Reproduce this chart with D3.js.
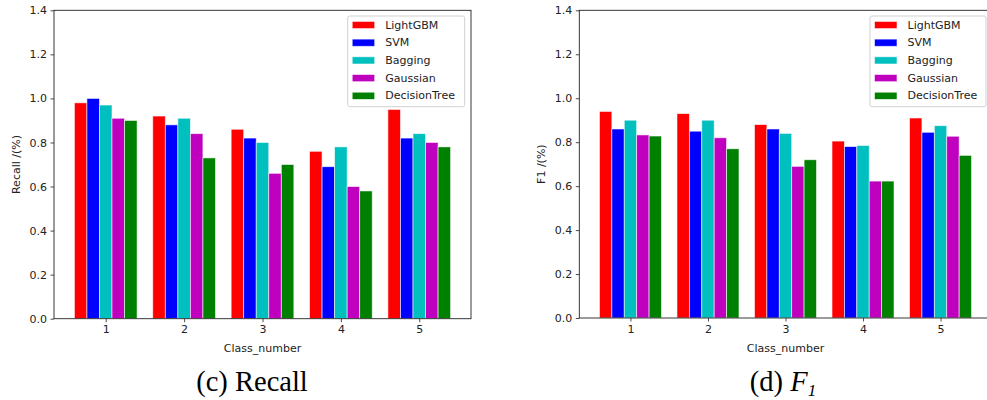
<!DOCTYPE html>
<html>
<head>
<meta charset="utf-8">
<script src="https://cdn.jsdelivr.net/npm/d3@7"></script>
<style>
  html, body { margin: 0; padding: 0; background: #fff; }
  svg { display: block; }
  .tick text { font-family: "DejaVu Sans", sans-serif; font-size: 11px; fill: #222; }
</style>
</head>
<body>
<svg id="chart" width="987" height="400"></svg>
<script>
// ---- data ----
const classNumbers = [1, 2, 3, 4, 5];
const models = ["LightGBM", "SVM", "Bagging", "Gaussian", "DecisionTree"];
const modelColors = ["#ff0000", "#0000ff", "#00bfbf", "#bf00bf", "#008000"];
const yTicks = [0, 0.2, 0.4, 0.6, 0.8, 1.0, 1.2, 1.4];

// Recall per model (classes 1..5)
const recallLightGBM     = [0.98, 0.92, 0.86, 0.76, 0.95];
const recallSVM          = [1.00, 0.88, 0.82, 0.69, 0.82];
const recallBagging      = [0.97, 0.91, 0.80, 0.78, 0.84];
const recallGaussian     = [0.91, 0.84, 0.66, 0.60, 0.80];
const recallDecisionTree = [0.90, 0.73, 0.70, 0.58, 0.78];

// F1 per model (classes 1..5)
const f1LightGBM     = [0.94, 0.93, 0.88, 0.805, 0.91];
const f1SVM          = [0.86, 0.85, 0.86, 0.78, 0.845];
const f1Bagging      = [0.90, 0.90, 0.84, 0.785, 0.875];
const f1Gaussian     = [0.833, 0.82, 0.69, 0.623, 0.827];
const f1DecisionTree = [0.828, 0.77, 0.72, 0.623, 0.74];

const recallSeries = [recallLightGBM, recallSVM, recallBagging, recallGaussian, recallDecisionTree];
const f1Series = [f1LightGBM, f1SVM, f1Bagging, f1Gaussian, f1DecisionTree];

const svg = d3.select("#chart");

function drawPanel(cfg) {
  const g = svg.append("g");
  const x = d3.scaleLinear().domain([0.34, 5.66]).range([cfg.x0, cfg.x1]);
  const y = d3.scaleLinear().domain([0, 1.4]).range([cfg.y1, cfg.y0]);
  const barW = 0.16;

  // bars
  cfg.series.forEach((vals, si) => {
    const off = (si - 2) * barW;
    g.append("g").selectAll("rect")
      .data(classNumbers.map((c, i) => ({ c, v: vals[i] })))
      .join("rect")
      .attr("x", d => x(d.c + off - barW / 2))
      .attr("width", d => x(d.c + off + barW / 2) - x(d.c + off - barW / 2))
      .attr("y", d => y(d.v))
      .attr("height", d => y(0) - y(d.v))
      .attr("fill", modelColors[si])
      .attr("stroke", "#ffffff")
      .attr("stroke-opacity", 0.7)
      .attr("stroke-width", 0.8);
  });

  // spines
  g.append("rect")
    .attr("x", cfg.x0).attr("y", cfg.y0)
    .attr("width", cfg.x1 - cfg.x0).attr("height", cfg.y1 - cfg.y0)
    .attr("stroke", "#222").attr("stroke-width", 0.9).attr("fill", "none");

  // axes
  const yAxis = d3.axisLeft(y).tickValues(yTicks).tickFormat(d3.format(".1f")).tickSizeOuter(0).tickSize(3.5).tickPadding(3.5);
  const ya = g.append("g").attr("transform", `translate(${cfg.x0},0)`).call(yAxis);
  ya.select(".domain").remove();
  ya.selectAll(".tick line").attr("stroke", "#222").attr("stroke-width", 0.8);

  const xAxis = d3.axisBottom(x).tickValues(classNumbers).tickFormat(d3.format("d")).tickSizeOuter(0).tickSize(3.5).tickPadding(3.5);
  const xa = g.append("g").attr("transform", `translate(0,${cfg.y1})`).call(xAxis);
  xa.select(".domain").remove();
  xa.selectAll(".tick line").attr("stroke", "#222").attr("stroke-width", 0.8);

  // axis labels
  g.append("text")
    .attr("x", (cfg.x0 + cfg.x1) / 2).attr("y", 352)
    .attr("text-anchor", "middle")
    .style("font-family", "DejaVu Sans, sans-serif").style("font-size", "11px").attr("fill", "#222")
    .text("Class_number");
  g.append("text")
    .attr("transform", `translate(${cfg.ylabelX},${(cfg.y0 + cfg.y1) / 2}) rotate(-90)`)
    .attr("text-anchor", "middle").attr("dominant-baseline", "central")
    .style("font-family", "DejaVu Sans, sans-serif").style("font-size", "11px").attr("fill", "#222")
    .text(cfg.ylabel);

  // legend
  const lg = g.append("g");
  lg.append("rect")
    .attr("x", cfg.legX).attr("y", 16)
    .attr("width", cfg.legW).attr("height", 90.7)
    .attr("rx", 2).attr("ry", 2)
    .attr("fill", "#fff").attr("fill-opacity", 0.8)
    .attr("stroke", "#cccccc").attr("stroke-width", 0.9);
  models.forEach((m, i) => {
    const cy = 25 + i * 17.7;
    lg.append("rect")
      .attr("x", cfg.legX + 4.5).attr("y", cy - 3.6)
      .attr("width", 22.5).attr("height", 7.2)
      .attr("fill", modelColors[i])
      .attr("stroke", "#fff").attr("stroke-opacity", 0.7).attr("stroke-width", 0.8);
    lg.append("text")
      .attr("x", cfg.legX + 37.5).attr("y", cy)
      .attr("dominant-baseline", "central")
      .style("font-family", "DejaVu Sans, sans-serif").style("font-size", "11px").attr("fill", "#222")
      .text(m);
  });
}

drawPanel({ x0: 54, x1: 471, y0: 10.3, y1: 318.7, series: recallSeries, ylabel: "Recall /(%)", ylabelX: 16, legX: 347.7, legW: 117 });
drawPanel({ x0: 579.3, x1: 991.7, y0: 10.3, y1: 318, series: f1Series, ylabel: "F1 /(%)", ylabelX: 541.7, legX: 870, legW: 116 });

// captions
svg.append("text")
  .attr("x", 252).attr("y", 391)
  .attr("text-anchor", "middle")
  .style("font-family", "Liberation Serif, Times New Roman, serif").style("font-size", "28.5px").attr("fill", "#000")
  .text("(c) Recall");

const cap2 = svg.append("text")
  .attr("x", 783).attr("y", 391)
  .attr("text-anchor", "middle")
  .style("font-family", "Liberation Serif, Times New Roman, serif").style("font-size", "28.5px").attr("fill", "#000");
cap2.append("tspan").text("(d) ");
cap2.append("tspan").style("font-style", "italic").text("F");
cap2.append("tspan").style("font-style", "italic").style("font-size", "17px").attr("dy", 5).text("1");
</script>
</body>
</html>
